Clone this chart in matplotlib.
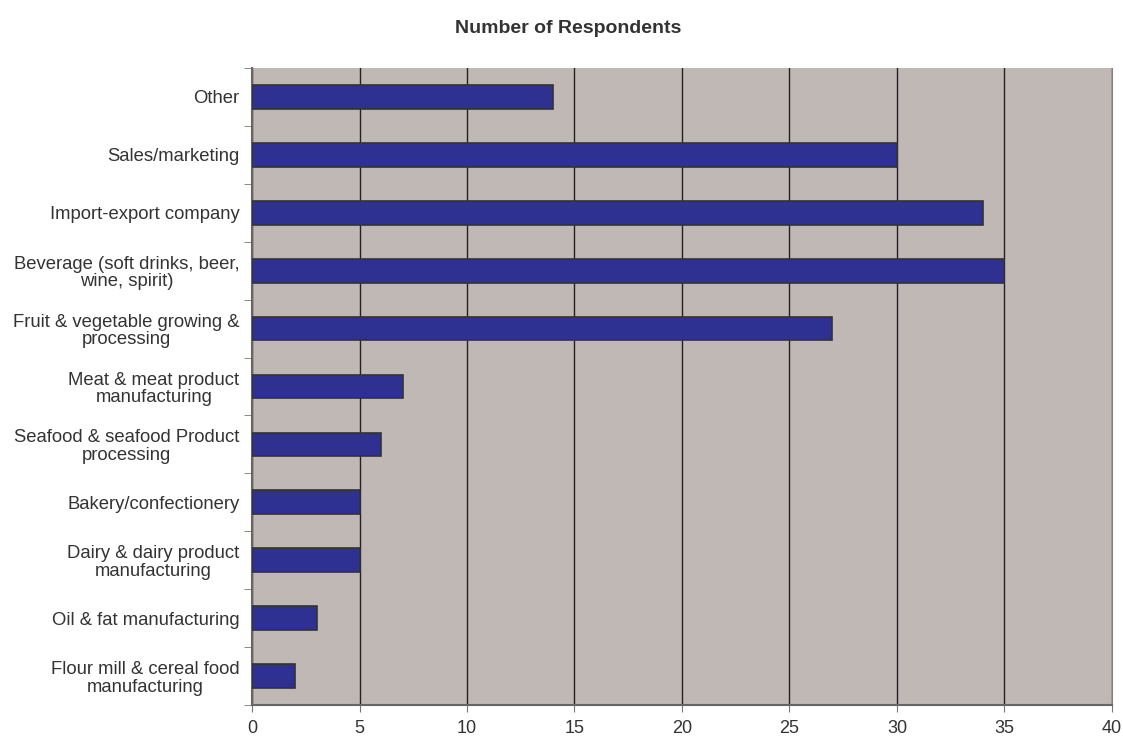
import matplotlib.pyplot as plt
import numpy as np

plt.rcParams['font.family'] = ['Liberation Sans', 'DejaVu Sans']

categories = [
    "Flour mill & cereal food\nmanufacturing",
    "Oil & fat manufacturing",
    "Dairy & dairy product\nmanufacturing",
    "Bakery/confectionery",
    "Seafood & seafood Product\nprocessing",
    "Meat & meat product\nmanufacturing",
    "Fruit & vegetable growing &\nprocessing",
    "Beverage (soft drinks, beer,\nwine, spirit)",
    "Import-export company",
    "Sales/marketing",
    "Other",
]
respondents = [2, 3, 5, 5, 6, 7, 27, 35, 34, 30, 14]

fig = plt.figure(figsize=(11.23, 7.36), dpi=100)
ax = fig.add_axes([0.2244, 0.0421, 0.7658, 0.8655])

y = np.arange(len(categories))
ax.barh(y, respondents, height=0.41, color='#2E3192', edgecolor='#333333', linewidth=1.2, zorder=3)

ax.set_facecolor('#C0B8B5')
ax.set_xlim(0, 40)
ax.set_ylim(-0.5, len(categories) - 0.5)
ax.set_xticks(np.arange(0, 41, 5))
ax.set_yticks(y)
ax.set_yticklabels(categories, fontsize=13.3, color='#333333', multialignment='center', linespacing=1.05)
ax.set_yticks(np.arange(-0.5, len(categories)), minor=True)
ax.tick_params(axis='y', which='major', length=0, pad=9)
ax.tick_params(axis='y', which='minor', length=6, color='#777777')
ax.tick_params(axis='x', length=5, color='#777777', labelsize=13, labelcolor='#333333', pad=6)

ax.grid(axis='x', color='#222222', linewidth=1, zorder=1)
for s in ['left', 'bottom']:
    ax.spines[s].set_color('#666666')
    ax.spines[s].set_linewidth(1.5)
ax.spines['right'].set_color('#8a8080')
ax.spines['top'].set_visible(False)

fig.text(0.5058, 0.961, "Number of Respondents", ha='center', va='center', fontsize=14, fontweight='bold', color='#333333')

fig.savefig('out.png', dpi=100)
